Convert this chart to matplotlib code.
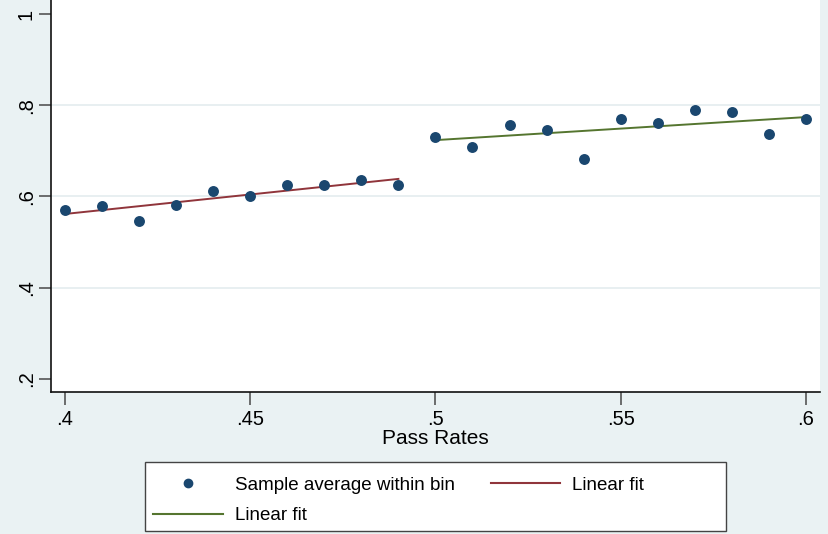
import numpy as np
import matplotlib
matplotlib.use("Agg")
import matplotlib.pyplot as plt
from matplotlib.lines import Line2D
from matplotlib.patches import Rectangle

plt.rcParams['font.family'] = ['Liberation Sans', 'DejaVu Sans']

# binned sample averages on each side of the .5 cutoff
bins_left = [0.40, 0.41, 0.42, 0.43, 0.44, 0.45, 0.46, 0.47, 0.48, 0.49]
avg_left = [0.570, 0.579, 0.546, 0.581, 0.612, 0.601, 0.625, 0.625, 0.636, 0.625]
bins_right = [0.50, 0.51, 0.52, 0.53, 0.54, 0.55, 0.56, 0.57, 0.58, 0.59, 0.60]
avg_right = [0.731, 0.709, 0.757, 0.746, 0.682, 0.770, 0.761, 0.789, 0.785, 0.737, 0.770]

xticks = [0.40, 0.45, 0.50, 0.55, 0.60]
xtick_labels = ['.4', '.45', '.5', '.55', '.6']
yticks = [0.2, 0.4, 0.6, 0.8, 1.0]
ytick_labels = ['.2', '.4', '.6', '.8', '1']

BG = '#EAF2F3'
NAVY = '#1a476f'
MAROON = '#90353b'
GREEN = '#55752f'

fig = plt.figure(figsize=(8.29, 5.34), dpi=100, facecolor=BG)
ax = fig.add_axes([0.0615, 0.266, 0.9275, 0.734])
ax.set_facecolor('white')

bins = np.array(bins_left + bins_right)
avgs = np.array(avg_left + avg_right)
ax.scatter(bins, avgs, s=62, color=NAVY, zorder=3, linewidths=0)

# separate linear fits below and above the cutoff
for xs, ys, col in [(bins_left, avg_left, MAROON), (bins_right, avg_right, GREEN)]:
    b, a = np.polyfit(xs, ys, 1)
    xx = np.array([xs[0], xs[-1]])
    ax.plot(xx, a + b * xx, color=col, lw=1.4, zorder=2)

ax.set_xlim(0.3962, 0.6038)
ax.set_ylim(0.171, 1.031)
ax.set_xticks(xticks)
ax.set_xticklabels(xtick_labels, fontsize=14.5)
ax.set_yticks(yticks)
ax.set_yticklabels(ytick_labels, fontsize=14.5, rotation=90, va='center')
ax.tick_params(axis='both', direction='out', length=9, width=1.2, color='#555555', pad=4)
ax.tick_params(axis='y', pad=2)
ax.set_xlabel('Pass Rates', fontsize=15, labelpad=0)

for v in [0.4, 0.6, 0.8]:
    ax.axhline(v, color='#E4ECEF', lw=1.2, zorder=1)

for s in ['top', 'right']:
    ax.spines[s].set_visible(False)
for s in ['left', 'bottom']:
    ax.spines[s].set_color('#111111')
    ax.spines[s].set_linewidth(1.2)

# legend box is wider than its contents, so draw the frame separately
box = Rectangle((0.1749, 0.0056), 0.7008, 0.1292, transform=fig.transFigure,
                facecolor='white', edgecolor='#444444', lw=1.0, zorder=0)
fig.patches.append(box)

handles = [
    Line2D([], [], ls='none', marker='o', ms=6, color=NAVY, label='Sample average within bin'),
    Line2D([], [], color=GREEN, lw=1.5, label='Linear fit'),
    Line2D([], [], color=MAROON, lw=1.5, label='Linear fit'),
]
leg = fig.legend(handles=handles, ncol=2, loc='upper left', bbox_to_anchor=(0.1749, 0.1236),
                 fontsize=13.5, frameon=False, handlelength=3.7,
                 columnspacing=1.9, handletextpad=0.65, borderpad=0.45, labelspacing=0.72,
                 borderaxespad=0.0)

fig.savefig('out.png', dpi=100, facecolor=BG)
